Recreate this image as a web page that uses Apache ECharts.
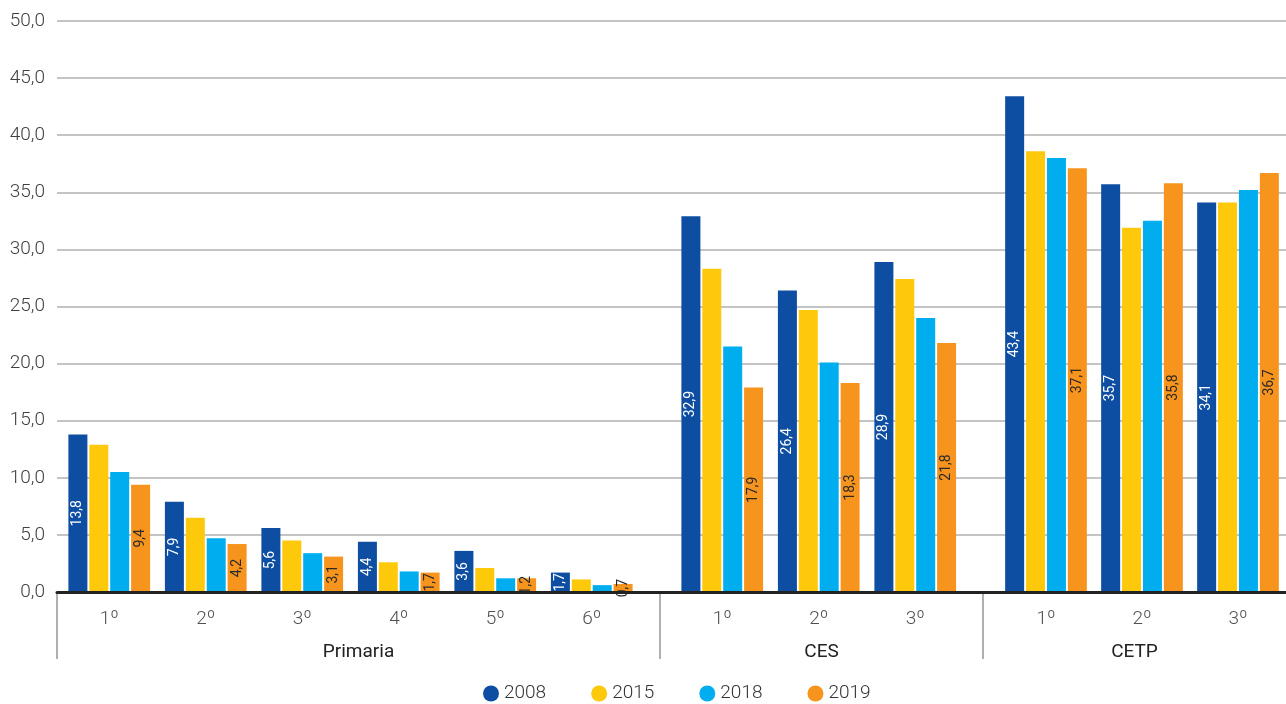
<!DOCTYPE html>
<html>
<head>
<meta charset="utf-8">
<script src="https://cdn.jsdelivr.net/npm/echarts@6/dist/echarts.min.js"></script>
<style>
html,body{margin:0;padding:0;background:#fff;}
#chart{width:1286px;height:704px;}
</style>
</head>
<body>
<div id="chart"></div>
<script>
// ---- data ----
const groupNames = ['Primaria', 'CES', 'CETP'];
const catsPrimaria = ['1º', '2º', '3º', '4º', '5º', '6º'];
const catsCES = ['1º', '2º', '3º'];
const catsCETP = ['1º', '2º', '3º'];
const years = ['2008', '2015', '2018', '2019'];
// order: Primaria 1-6, CES 1-3, CETP 1-3
const v2008 = [13.8, 7.9, 5.6, 4.4, 3.6, 1.7, 32.9, 26.4, 28.9, 43.4, 35.7, 34.1];
const v2015 = [12.9, 6.5, 4.5, 2.6, 2.1, 1.1, 28.3, 24.7, 27.4, 38.6, 31.9, 34.1];
const v2018 = [10.5, 4.7, 3.4, 1.8, 1.2, 0.6, 21.5, 20.1, 24.0, 38.0, 32.5, 35.2];
const v2019 = [9.4, 4.2, 3.1, 1.7, 1.2, 0.7, 17.9, 18.3, 21.8, 37.1, 35.8, 36.7];
const yTicks = [0, 5, 10, 15, 20, 25, 30, 35, 40, 45, 50];

const colors = {'2008': '#0D4EA2', '2015': '#FEC80B', '2018': '#00AEEF', '2019': '#F7941D'};
const valuesByYear = {'2008': v2008, '2015': v2015, '2018': v2018, '2019': v2019};
const labelled = {'2008': '#ffffff', '2019': '#2a2a2a'};

const FONT = 'Roboto';
const TOP = 21, BOTTOM = 112;
const yMin = yTicks[0], yMax = yTicks[yTicks.length - 1], yStep = yTicks[1] - yTicks[0];

const fmt = v => v.toFixed(1).replace('.', ',');

const barGrids = [
  {left: 61, width: 579, cats: catsPrimaria, from: 0, to: 6},
  {left: 674, width: 289.5, cats: catsCES, from: 6, to: 9},
  {left: 998, width: 288, cats: catsCETP, from: 9, to: 12}
];
const labelGrids = [
  {left: 57, width: 603, ticks: true},
  {left: 660, width: 323, ticks: true},
  {left: 983, width: 310, ticks: false}
];

const grid = [{left: 57, right: 0, top: TOP, bottom: BOTTOM}];
const xAxis = [{
  gridIndex: 0, type: 'category', data: [''], z: 5,
  axisLine: {show: true, lineStyle: {color: '#222', width: 3}},
  axisTick: {show: false}, axisLabel: {show: false}
}];
const yAxis = [{
  gridIndex: 0, type: 'value', min: yMin, max: yMax, interval: yStep,
  axisLine: {show: false}, axisTick: {show: false},
  axisLabel: {formatter: v => fmt(v), color: '#404040', fontSize: 19, fontFamily: FONT, fontWeight: 300, margin: 12},
  splitLine: {show: true, lineStyle: {color: '#c4c4c4', width: 2}}
}];
const series = [];

barGrids.forEach((g, i) => {
  const gi = grid.length;
  grid.push({left: g.left, width: g.width, top: TOP, bottom: BOTTOM});
  xAxis.push({
    gridIndex: gi, type: 'category', data: g.cats,
    axisLine: {show: false}, axisTick: {show: false},
    axisLabel: {color: '#505050', fontSize: 19, fontFamily: FONT, fontWeight: 300, margin: 18}
  });
  yAxis.push({gridIndex: gi, type: 'value', min: yMin, max: yMax, interval: yStep, show: false, splitLine: {show: false}});
  years.forEach(y => {
    const s = {
      name: y, type: 'bar', xAxisIndex: gi, yAxisIndex: gi,
      data: valuesByYear[y].slice(g.from, g.to),
      barWidth: 19, barGap: '10%',
      itemStyle: {color: colors[y]},
      emphasis: {disabled: true}
    };
    if (labelled[y]) {
      s.label = {
        show: true, position: 'inside', rotate: 90,
        formatter: p => fmt(p.value),
        color: labelled[y], fontSize: 14, fontFamily: FONT
      };
    }
    series.push(s);
  });
});

labelGrids.forEach((g, i) => {
  const gi = grid.length;
  grid.push({left: g.left, width: g.width, top: TOP, bottom: BOTTOM});
  xAxis.push({
    gridIndex: gi, type: 'category', data: [groupNames[i]],
    axisLine: {show: false},
    axisTick: {show: g.ticks, length: 67, lineStyle: {color: '#b0b0b0', width: 2}},
    axisLabel: {color: '#222', fontSize: 19, fontFamily: FONT, margin: 51}
  });
  yAxis.push({gridIndex: gi, type: 'value', min: yMin, max: yMax, show: false, splitLine: {show: false}});
});

const chart = echarts.init(document.getElementById('chart'), null, {renderer: 'canvas'});
chart.setOption({
  animation: false,
  color: years.map(y => colors[y]),
  legend: {
    data: years, bottom: -4, left: 478,
    icon: 'circle', itemWidth: 16, itemHeight: 16, itemGap: 45,
    textStyle: {color: '#333', fontSize: 19, fontFamily: FONT, fontWeight: 300}
  },
  grid, xAxis, yAxis, series
});
</script>
</body>
</html>
